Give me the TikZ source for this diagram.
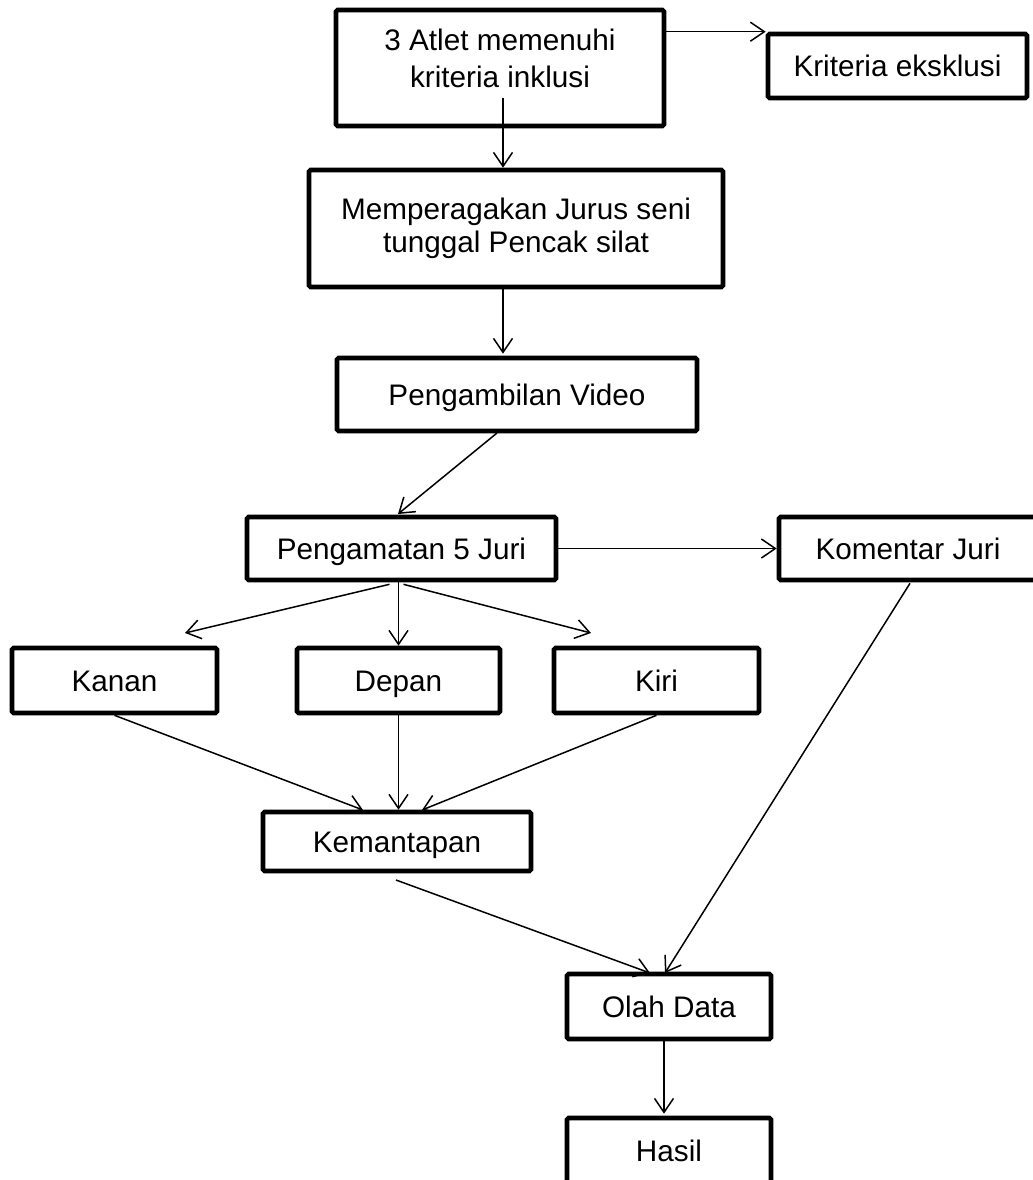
\documentclass[tikz,border=0pt]{standalone}
\usepackage{fontspec}
\setmainfont{Liberation Sans}
\usetikzlibrary{arrows.meta,calc}
\begin{document}
\begin{tikzpicture}[x=0.5pt,y=-0.5pt,
  box/.style={draw, line width=2.3pt, rounded corners=0.8pt, inner sep=0pt, align=center,
    font=\fontsize{14.85}{17.5}\selectfont},
  oneline/.style={text height=10.6pt, text depth=0pt},
  txt/.style={inner sep=0pt, align=center},
  conn/.style={line width=0.75pt, -{Straight Barb[length=7pt,width=9.5pt,line width=0.75pt]}}
]
\useasboundingbox (0,0) rectangle (1033,1180);
% boxes
\node[box, minimum width=164pt, minimum height=58pt] (b1) at (500,68) {};
\node[txt, font=\fontsize{14.85}{18.5}\selectfont] (t1) at (500,58) {3 Atlet memenuhi\\kriteria inklusi};
\node[box, oneline, minimum width=129.5pt, minimum height=32pt] (kr) at (897.5,66) {Kriteria eksklusi};
\node[box, minimum width=207pt, minimum height=58.5pt, font=\fontsize{14.85}{16.5}\selectfont] (b3) at (516,228.5) {Memperagakan Jurus seni\\tunggal Pencak silat};
\node[box, oneline, minimum width=180pt, minimum height=36.5pt] (b4) at (517,394.5) {Pengambilan Video};
\node[box, oneline, minimum width=154.5pt, minimum height=31.5pt] (b5) at (401.5,548.5) {Pengamatan 5 Juri};
\node[box, oneline, minimum width=129pt, minimum height=31.5pt] (b6) at (908,548.5) {Komentar Juri};
\node[box, oneline, minimum width=102.5pt, minimum height=32.5pt] (b7) at (114.5,680.5) {Kanan};
\node[box, oneline, minimum width=101.5pt, minimum height=32.5pt] (b8) at (398.5,680.5) {Depan};
\node[box, oneline, minimum width=102.5pt, minimum height=32.5pt] (b9) at (656.5,680.5) {Kiri};
\node[box, oneline, minimum width=134pt, minimum height=29.5pt] (b10) at (397,841.5) {Kemantapan};
\node[box, oneline, minimum width=102pt, minimum height=32.5pt] (b11) at (669,1006.5) {Olah Data};
\node[box, oneline, minimum width=102pt, minimum height=32.5pt] (b12) at (669,1150.5) {Hasil};
% free ends
\coordinate (s1) at (503,98);
\coordinate (s4) at (497,433);
\coordinate (e4) at (398,514);
\coordinate (e6) at (185,633);
\coordinate (e8) at (591,633);
\coordinate (e9) at (363,810);
\coordinate (e11) at (422,810);
\coordinate (s12) at (396,880);
\coordinate (e12) at (650,973);
\coordinate (e13) at (665,973);
% connectors
\draw[conn] (s1) -- (s1 |- b3.north);
\draw[conn] (b1.east |- kr.north west) -- (kr.north west);
\draw[conn] (s1 |- b3.south) -- ($(s1 |- b4.north)+(0,-2)$);
\draw[conn] (s4) -- (e4);
\draw[conn] (b5.east) -- (b6.west);
\draw[conn] ($(b5.south)+(-12,2)$) -- (e6);
\draw[conn] (b8.north |- b5.south) -- (b8.north);
\draw[conn] ($(b5.south)+(2,2)$) -- (e8);
\draw[conn] (b7.south) -- (e9);
\draw[conn] (b8.south) -- (b8.south |- b10.north);
\draw[conn] (b9.south) -- (e11);
\draw[conn] (s12) -- (e12);
\draw[conn] ($(b6.south)+(2,1)$) -- (e13);
\draw[conn] ($(b11.south)+(-5,0)$) -- ($(b12.north)+(-5,-2)$);
\end{tikzpicture}
\end{document}
